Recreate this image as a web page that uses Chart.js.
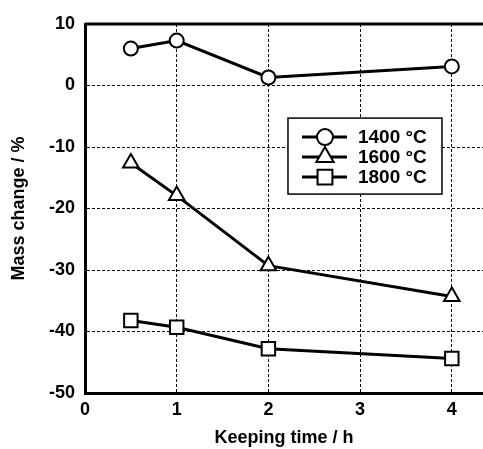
<!DOCTYPE html>
<html>
<head>
<meta charset="utf-8">
<script src="https://cdn.jsdelivr.net/npm/chart.js@4.4.0/dist/chart.umd.min.js"></script>
<style>
  html, body { margin: 0; padding: 0; background: #fff; }
  #wrap { width: 483px; height: 449px; }
</style>
</head>
<body>
<div id="wrap"><canvas id="massChart" width="483" height="449"></canvas></div>
<script>
// data
const times = [0.5, 1, 2, 4];
const mass1400 = [6.0, 7.3, 1.3, 3.1];
const mass1600 = [-12.6, -17.9, -29.3, -34.3];
const mass1800 = [-38.2, -39.3, -42.8, -44.4];
const seriesLabels = ['1400 °C', '1600 °C', '1800 °C'];
const xTicks = [0, 1, 2, 3, 4];
const yTicks = [10, 0, -10, -20, -30, -40, -50];

const FONT = 'Liberation Sans, Arial, Helvetica, sans-serif';

function pts(vals) {
    return times.map((t, i) => ({ x: t, y: vals[i] }));
}

function makeSet(label, vals, style, radius) {
    return {
        label: label,
        data: pts(vals),
        borderColor: '#000',
        borderWidth: 3,
        backgroundColor: '#fff',
        pointStyle: style,
        pointRadius: radius,
        pointBorderWidth: 2,
        pointBorderColor: '#000',
        pointBackgroundColor: '#fff',
        tension: 0
    };
}

// box frame top line + legend inside the plot
const framePlugin = {
    id: 'frame',
    afterDatasetsDraw(chart) {
        const { ctx, chartArea } = chart;
        ctx.save();
        ctx.strokeStyle = '#000';
        ctx.lineWidth = 3;
        ctx.beginPath();
        ctx.moveTo(chartArea.left, chartArea.top);
        ctx.lineTo(chartArea.right, chartArea.top);
        ctx.stroke();

        // legend
        const w = chartArea.right - chartArea.left;
        const h = chartArea.bottom - chartArea.top;
        const bx = chartArea.left + w * 0.51;
        const by = chartArea.top + h * 0.255;
        const bw = 154, bh = 76;
        ctx.fillStyle = '#fff';
        ctx.fillRect(bx, by, bw, bh);
        ctx.lineWidth = 1.5;
        ctx.strokeRect(bx, by, bw, bh);
        ctx.font = 'bold 19px ' + FONT;
        ctx.textBaseline = 'middle';
        chart.data.datasets.forEach((ds, i) => {
            const y = by + 19 + i * 20;
            ctx.lineWidth = 3;
            ctx.beginPath();
            ctx.moveTo(bx + 14, y);
            ctx.lineTo(bx + 59, y);
            ctx.stroke();
            ctx.lineWidth = 2;
            ctx.fillStyle = '#fff';
            Chart.helpers.drawPoint(ctx, {
                pointStyle: ds.pointStyle,
                radius: ds.pointRadius + 1,
                borderWidth: 2
            }, bx + 37, y);
            ctx.fillStyle = '#000';
            ctx.fillText(ds.label, bx + 70, y + 1);
        });
        ctx.restore();
    }
};

const ctx = document.getElementById('massChart').getContext('2d');
new Chart(ctx, {
    type: 'line',
    data: {
        datasets: [
            makeSet(seriesLabels[0], mass1400, 'circle', 7),
            makeSet(seriesLabels[1], mass1600, 'triangle', 9),
            makeSet(seriesLabels[2], mass1800, 'rect', 9.5)
        ]
    },
    options: {
        responsive: false,
        animation: false,
        layout: { autoPadding: false, padding: { top: 24, right: 0, left: 0, bottom: 0 } },
        plugins: {
            legend: { display: false },
            tooltip: { enabled: false }
        },
        scales: {
            x: {
                type: 'linear',
                min: 0,
                max: 4.34,
                afterBuildTicks: function (scale) {
                    scale.ticks = xTicks.map(v => ({ value: v }));
                },
                afterFit: function (scale) {
                    scale.height = 56;
                    scale.paddingRight = 0;
                },
                ticks: {
                    color: '#000',
                    padding: 6,
                    font: { family: FONT, size: 18, weight: 'bold' }
                },
                grid: {
                    color: '#000',
                    lineWidth: 1,
                    drawTicks: false
                },
                border: { color: '#000', width: 3, dash: [3, 2] },
                title: {
                    display: true,
                    text: 'Keeping time / h',
                    color: '#000',
                    padding: { top: 4, bottom: 0 },
                    font: { family: FONT, size: 18, weight: 'bold' }
                }
            },
            y: {
                min: -50,
                max: 10,
                afterBuildTicks: function (scale) {
                    scale.ticks = yTicks.map(v => ({ value: v }));
                },
                afterFit: function (scale) { scale.width = 85; },
                ticks: {
                    color: '#000',
                    padding: 10,
                    font: { family: FONT, size: 18, weight: 'bold' }
                },
                grid: {
                    color: '#000',
                    lineWidth: 1,
                    drawTicks: false
                },
                border: { color: '#000', width: 3, dash: [3, 2] },
                title: {
                    display: true,
                    text: 'Mass change / %',
                    color: '#000',
                    padding: { top: 8, bottom: 0 },
                    font: { family: FONT, size: 18, weight: 'bold' }
                }
            }
        }
    },
    plugins: [framePlugin]
});
</script>
</body>
</html>
